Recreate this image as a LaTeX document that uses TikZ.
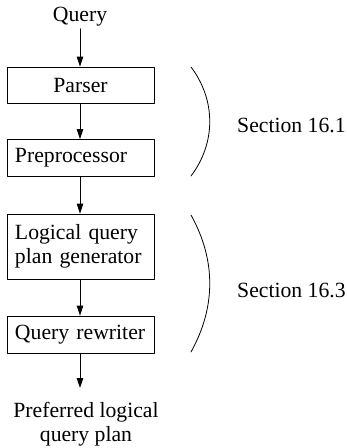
\documentclass[tikz,border=0pt]{standalone}
\usepackage{fontspec}
\setmainfont{Liberation Serif}
\usetikzlibrary{arrows.meta,positioning}
\tikzset{
  every picture/.append style={line cap=round,line join=round},
  qp label/.style={font=\fontsize{21.7pt}{24.5pt}\selectfont,align=center},
  qp box/.style={draw,line width=0.8pt,minimum width=147pt,minimum height=37pt,
    inner xsep=8pt,inner ysep=0pt,text width=131pt,align=left,
    font=\fontsize{21.7pt}{24.5pt}\selectfont},
  qp flow/.style={line width=0.9pt,-{Triangle[length=10pt,width=6.5pt]}},
  qp brace/.style={line width=0.8pt}
}
\begin{document}
\begin{tikzpicture}[x=1pt,y=-1pt]
  \useasboundingbox (0,0) rectangle (347,448);
  % stages
  \node[qp label,inner sep=2pt] (query) at (80,17) {Query};
  \node[qp box,align=center,minimum height=36pt] (parser) at (80.5,85) {Parser};
  \node[qp box] (prep) at (80.5,158) {Preprocessor};
  \node[qp box,minimum height=65pt] (lqpg) at (80.5,246.5) {Logical query\\plan generator};
  \node[qp box] (rewriter) at (80.5,334.5) {Query rewriter};
  \node[qp label,inner sep=0pt,anchor=north] (result) at (86,402) {Preferred logical\\query plan};
  \draw[qp flow] (query.south) -- (query.south |- parser.north);
  \draw[qp flow] (parser.south -| query.south) -- (query.south |- prep.north);
  \draw[qp flow] (prep.south -| query.south) -- (query.south |- lqpg.north);
  \draw[qp flow] (lqpg.south -| query.south) -- (query.south |- rewriter.north);
  \draw[qp flow,shorten >=14pt] (rewriter.south -| query.south) -- (query.south |- result.north);
  % sections
  \coordinate (b1top) at (191,67);
  \coordinate (b1bot) at (191,176);
  \coordinate (b2top) at (191,215);
  \coordinate (b2bot) at (191,352);
  \draw[qp brace] (b1top) .. controls (216,100) and (216,143) .. (b1bot);
  \draw[qp brace] (b2top) .. controls (216,260) and (216,307) .. (b2bot);
  \node[qp label,anchor=west,inner sep=0pt] (sec1) at (237,125) {Section 16.1};
  \node[qp label,anchor=west,inner sep=0pt] (sec3) at (237,290) {Section 16.3};
\end{tikzpicture}
\end{document}
